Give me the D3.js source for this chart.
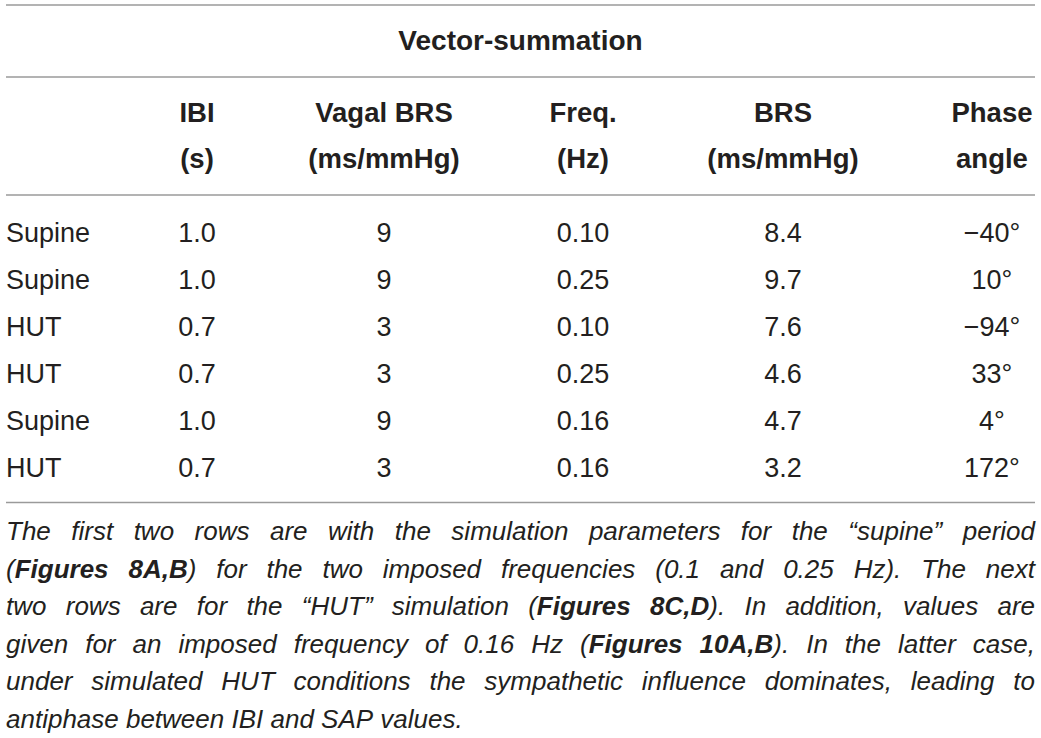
<!DOCTYPE html>
<html>
<head>
<meta charset="utf-8">
<script src="https://cdn.jsdelivr.net/npm/d3@7"></script>
<style>
  html, body { margin: 0; padding: 0; background: #fff; }
  svg { display: block; }
</style>
</head>
<body>
<svg id="table" width="1041" height="738"></svg>
<script>
// Table content
const title = "Vector-summation";
const columns = ["ibi", "vagal", "freq", "brs", "phase"];
const headerLines = [
  ["IBI", "(s)"],
  ["Vagal BRS", "(ms/mmHg)"],
  ["Freq.", "(Hz)"],
  ["BRS", "(ms/mmHg)"],
  ["Phase", "angle"]
];
const conditions = ["Supine", "Supine", "HUT", "HUT", "Supine", "HUT"];
const ibiValues = ["1.0", "1.0", "0.7", "0.7", "1.0", "0.7"];
const vagalBrsValues = ["9", "9", "3", "3", "9", "3"];
const freqValues = ["0.10", "0.25", "0.10", "0.25", "0.16", "0.16"];
const brsValues = ["8.4", "9.7", "7.6", "4.6", "4.7", "3.2"];
const phaseValues = [-40, 10, -94, 33, 4, 172];

// footnote, *...* marks bold runs
const footnoteLines = [
  "The first two rows are with the simulation parameters for the \u201csupine\u201d period",
  "(*Figures 8A,B*) for the two imposed frequencies (0.1 and 0.25 Hz). The next",
  "two rows are for the \u201cHUT\u201d simulation (*Figures 8C,D*). In addition, values are",
  "given for an imposed frequency of 0.16 Hz (*Figures 10A,B*). In the latter case,",
  "under simulated HUT conditions the sympathetic influence dominates, leading to",
  "antiphase between IBI and SAP values."
];

const width = 1041;
const left = 6, right = 1035;
const font = "'Liberation Sans', Arial, Helvetica, sans-serif";
const ruleColor = "#9a9a9a";
const textColor = "#231f20";

const svg = d3.select("#table")
  .style("font-family", font);

const fmtPhase = v => (v < 0 ? "\u2212" + Math.abs(v) : String(v)) + "\u00b0";

const rows = conditions.map((c, i) => ({
  cond: c,
  ibi: ibiValues[i],
  vagal: vagalBrsValues[i],
  freq: freqValues[i],
  brs: brsValues[i],
  phase: fmtPhase(phaseValues[i])
}));

// column centres
const xCol = d3.scaleOrdinal()
  .domain(columns)
  .range([197, 384, 583, 783, 992]);

// row baselines
const yRow = d3.scalePoint()
  .domain(d3.range(rows.length))
  .range([241.5, 476.5]);

// Rules
const rules = [5, 77, 195, 502.5];
svg.append("g")
  .selectAll("line")
  .data(rules)
  .join("line")
  .attr("x1", left)
  .attr("x2", right)
  .attr("y1", d => d)
  .attr("y2", d => d)
  .attr("stroke", ruleColor)
  .attr("stroke-width", 1.5);

// Spanner title
svg.append("text")
  .attr("x", (left + right) / 2)
  .attr("y", 50)
  .attr("text-anchor", "middle")
  .attr("font-size", "28px")
  .attr("font-weight", "bold")
  .attr("fill", textColor)
  .text(title);

// Column headers
const header = svg.append("g")
  .selectAll("text")
  .data(headerLines)
  .join("text")
  .attr("text-anchor", "middle")
  .attr("font-size", "27.5px")
  .attr("font-weight", "bold")
  .attr("fill", textColor);

header.selectAll("tspan")
  .data((d, i) => d.map(t => ({ t, col: columns[i] })))
  .join("tspan")
  .attr("x", d => xCol(d.col))
  .attr("y", (d, j) => 122 + j * 46)
  .text(d => d.t);

// Body rows
const body = svg.append("g")
  .attr("font-size", "27px")
  .attr("fill", textColor);

body.selectAll("text.stub")
  .data(rows)
  .join("text")
  .attr("class", "stub")
  .attr("x", left)
  .attr("y", (d, i) => yRow(i))
  .text(d => d.cond);

columns.forEach(col => {
  body.selectAll(`text.c-${col}`)
    .data(rows)
    .join("text")
    .attr("class", `c-${col}`)
    .attr("x", xCol(col))
    .attr("y", (d, i) => yRow(i))
    .attr("text-anchor", "middle")
    .text(d => d[col]);
});

// Footnote, justified
const note = svg.append("g")
  .attr("font-size", "26px")
  .attr("font-style", "italic")
  .attr("fill", textColor);

const parseWords = line => {
  let bold = false;
  return line.split(" ").map(word => {
    const runs = [];
    let cur = "";
    for (const ch of word) {
      if (ch === "*") {
        if (cur) runs.push({ t: cur, bold });
        cur = "";
        bold = !bold;
      } else {
        cur += ch;
      }
    }
    if (cur) runs.push({ t: cur, bold });
    return runs;
  });
};

footnoteLines.forEach((line, li) => {
  const y = 540 + li * 37.5;
  const words = parseWords(line);
  const nodes = words.map(runs => {
    const t = note.append("text").attr("y", y);
    t.selectAll("tspan")
      .data(runs)
      .join("tspan")
      .attr("font-weight", d => d.bold ? "bold" : null)
      .text(d => d.t);
    return t;
  });
  const widths = nodes.map(n => n.node().getComputedTextLength());
  const total = d3.sum(widths);
  const last = li === footnoteLines.length - 1;
  const gap = last ? 7.2 : (right - left - total) / (nodes.length - 1);
  let x = left;
  nodes.forEach((n, i) => {
    n.attr("x", x);
    x += widths[i] + gap;
  });
});
</script>
</body>
</html>
